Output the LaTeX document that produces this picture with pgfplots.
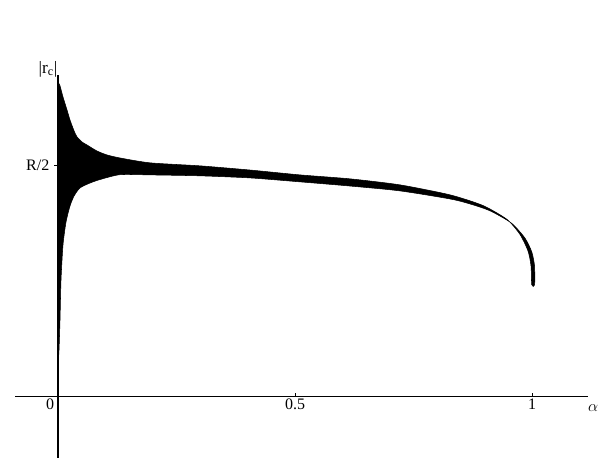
\documentclass[border=0pt]{standalone}
\usepackage{pgfplots}
\pgfplotsset{compat=1.18}
\usepackage{fontspec}
\setmainfont{Liberation Serif}

% upper and lower envelope of the oscillating band (|r_c| in units of R/2)
\pgfplotstableread{
x      y
0      1.358
0.0042 1.341
0.0105 1.293
0.0190 1.237
0.0253 1.194
0.0338 1.147
0.0401 1.121
0.0506 1.099
0.0612 1.086
0.0823 1.060
0.1034 1.043
0.1308 1.030
0.1941 1.009
0.2996 0.996
0.4051 0.978
0.5105 0.957
0.6160 0.940
0.7215 0.914
0.8270 0.871
0.8966 0.825
0.9473 0.765
0.9747 0.700
0.9916 0.629
0.9979 0.565
0.9995 0.483
1.0055 0.483
1.0053 0.565
0.9995 0.625
0.9850 0.685
0.9560 0.750
0.9070 0.806
0.8376 0.849
0.7215 0.888
0.6160 0.909
0.5105 0.927
0.4051 0.944
0.2996 0.953
0.1941 0.957
0.1308 0.958
0.0886 0.937
0.0675 0.922
0.0464 0.901
0.0338 0.866
0.0253 0.823
0.0169 0.754
0.0105 0.655
0.0063 0.504
0.0042 0.332
0.0021 0.203
0      0.138
}\band

\begin{document}
\begin{tikzpicture}
\begin{axis}[
    scale only axis,
    width=429.75pt, height=287.25pt,
    xmin=-0.0907, xmax=1.1181,
    ymin=-0.263, ymax=1.388,
    axis lines=middle,
    axis line style={-, black, line width=0.9pt},
    hide obscured x ticks=false,
    clip=false,
    xtick={0,0.5,1},
    xticklabels={\makebox[0pt][r]{0\hspace{3pt}},0.5,1},
    ytick={1},
    yticklabels={R/2},
    tick style={black, line width=0.6pt},
    major tick length=3pt,
    ytick align=outside,
    xtick align=inside,
    ticklabel style={font=\fontsize{12}{14}\selectfont},
    /pgf/number format/assume math mode=true,
    xticklabel style={yshift=2pt},
    xlabel={$\alpha$},
    ylabel={|r\textsubscript{c}|},
    label style={font=\fontsize{13}{15}\selectfont},
    xlabel style={at={(rel axis cs:1.009,0.1305)}, anchor=center},
    ylabel style={at={(rel axis cs:0.0576,1.015)}, anchor=center, rotate=0},
]
\addplot[black, fill=black, line width=0.4pt, smooth, tension=0.4] table {\band} -- cycle;
% keep the page the size of the reference
\path (axis cs:-0.1224,-0.306) rectangle (axis cs:1.173,1.711);
\end{axis}
\end{tikzpicture}
\end{document}
